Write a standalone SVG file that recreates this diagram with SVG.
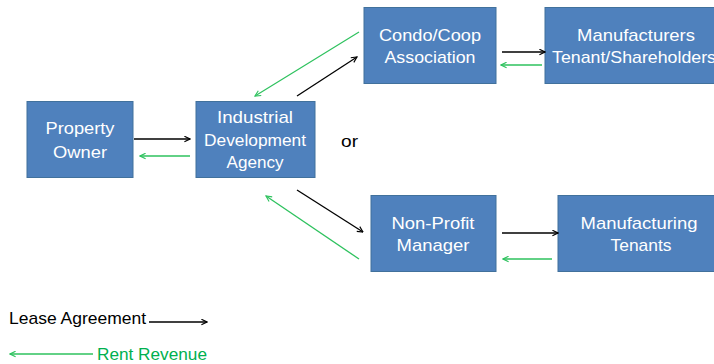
<svg xmlns="http://www.w3.org/2000/svg" width="714" height="364" viewBox="0 0 714 364">
<style>
.box{fill:#4F81BD;stroke:#41719C;stroke-width:1}
.t{font-family:"Liberation Sans",Arial,sans-serif;font-size:17px;fill:#FFFFFF;text-anchor:middle}
.k{font-family:"Liberation Sans",Arial,sans-serif;font-size:17px;fill:#000000}
.g{font-family:"Liberation Sans",Arial,sans-serif;font-size:17px;fill:#00B050}
.lb{stroke:#000;stroke-width:1.3;fill:none;marker-end:url(#ab)}
.lg{stroke:#2EC25E;stroke-width:1.3;fill:none;marker-end:url(#ag)}
</style>
<defs>
<marker id="ab" viewBox="0 0 10 10" refX="9" refY="5" markerWidth="7" markerHeight="7" markerUnits="userSpaceOnUse" orient="auto">
<path d="M1,1 L9,5 L1,9" fill="none" stroke="#000" stroke-width="1.6"/>
</marker>
<marker id="ag" viewBox="0 0 10 10" refX="9" refY="5" markerWidth="7" markerHeight="7" markerUnits="userSpaceOnUse" orient="auto">
<path d="M1,1 L9,5 L1,9" fill="none" stroke="#2EC25E" stroke-width="1.6"/>
</marker>
</defs>
<rect width="714" height="364" fill="#FFFFFF"/>
<g id="property-owner">
<rect class="box" x="27" y="101.5" width="106" height="76"/>
<text class="t" x="80" y="134" textLength="69" lengthAdjust="spacingAndGlyphs">Property</text>
<text class="t" x="80" y="158" textLength="54" lengthAdjust="spacingAndGlyphs">Owner</text>
</g>
<g id="ida">
<rect class="box" x="196" y="101.5" width="119" height="76"/>
<text class="t" x="255" y="123" textLength="76" lengthAdjust="spacingAndGlyphs">Industrial</text>
<text class="t" x="255" y="146" textLength="102" lengthAdjust="spacingAndGlyphs">Development</text>
<text class="t" x="255" y="168" textLength="57" lengthAdjust="spacingAndGlyphs">Agency</text>
</g>
<g id="condo">
<rect class="box" x="364" y="7.5" width="132" height="76"/>
<text class="t" x="430" y="41" textLength="102" lengthAdjust="spacingAndGlyphs">Condo/Coop</text>
<text class="t" x="430" y="63" textLength="91" lengthAdjust="spacingAndGlyphs">Association</text>
</g>
<g id="manufacturers">
<rect class="box" x="545" y="7.5" width="175" height="76"/>
<text class="t" x="636" y="41" textLength="118" lengthAdjust="spacingAndGlyphs">Manufacturers</text>
<text class="t" x="634" y="63" textLength="164" lengthAdjust="spacingAndGlyphs">Tenant/Shareholders</text>
</g>
<g id="non-profit">
<rect class="box" x="371" y="195.5" width="125" height="76"/>
<text class="t" x="433" y="229" textLength="83" lengthAdjust="spacingAndGlyphs">Non-Profit</text>
<text class="t" x="433" y="251" textLength="73" lengthAdjust="spacingAndGlyphs">Manager</text>
</g>
<g id="manufacturing-tenants">
<rect class="box" x="558" y="195.5" width="162" height="76"/>
<text class="t" x="639" y="229" textLength="117" lengthAdjust="spacingAndGlyphs">Manufacturing</text>
<text class="t" x="641" y="251" textLength="61" lengthAdjust="spacingAndGlyphs">Tenants</text>
</g>
<text class="k" x="341" y="147" textLength="17" lengthAdjust="spacingAndGlyphs">or</text>
<g id="connectors">
<line class="lb" x1="134" y1="139" x2="190" y2="139"/>
<line class="lg" x1="190" y1="156" x2="140" y2="156"/>
<line class="lb" x1="297" y1="96" x2="357" y2="57"/>
<line class="lg" x1="359" y1="32" x2="255" y2="96"/>
<line class="lb" x1="502" y1="52" x2="545" y2="52"/>
<line class="lg" x1="542" y1="65" x2="501" y2="65"/>
<line class="lb" x1="297" y1="190" x2="363" y2="232"/>
<line class="lg" x1="359" y1="259" x2="266" y2="196"/>
<line class="lb" x1="502" y1="233" x2="558" y2="233"/>
<line class="lg" x1="552" y1="259" x2="503" y2="259"/>
</g>
<g id="legend">
<text class="k" x="9" y="324" textLength="137" lengthAdjust="spacingAndGlyphs">Lease Agreement</text>
<line class="lb" x1="149" y1="322" x2="207" y2="322"/>
<line class="lg" x1="93" y1="354" x2="10" y2="354"/>
<text class="g" x="97" y="360" textLength="110" lengthAdjust="spacingAndGlyphs">Rent Revenue</text>
</g>
</svg>
